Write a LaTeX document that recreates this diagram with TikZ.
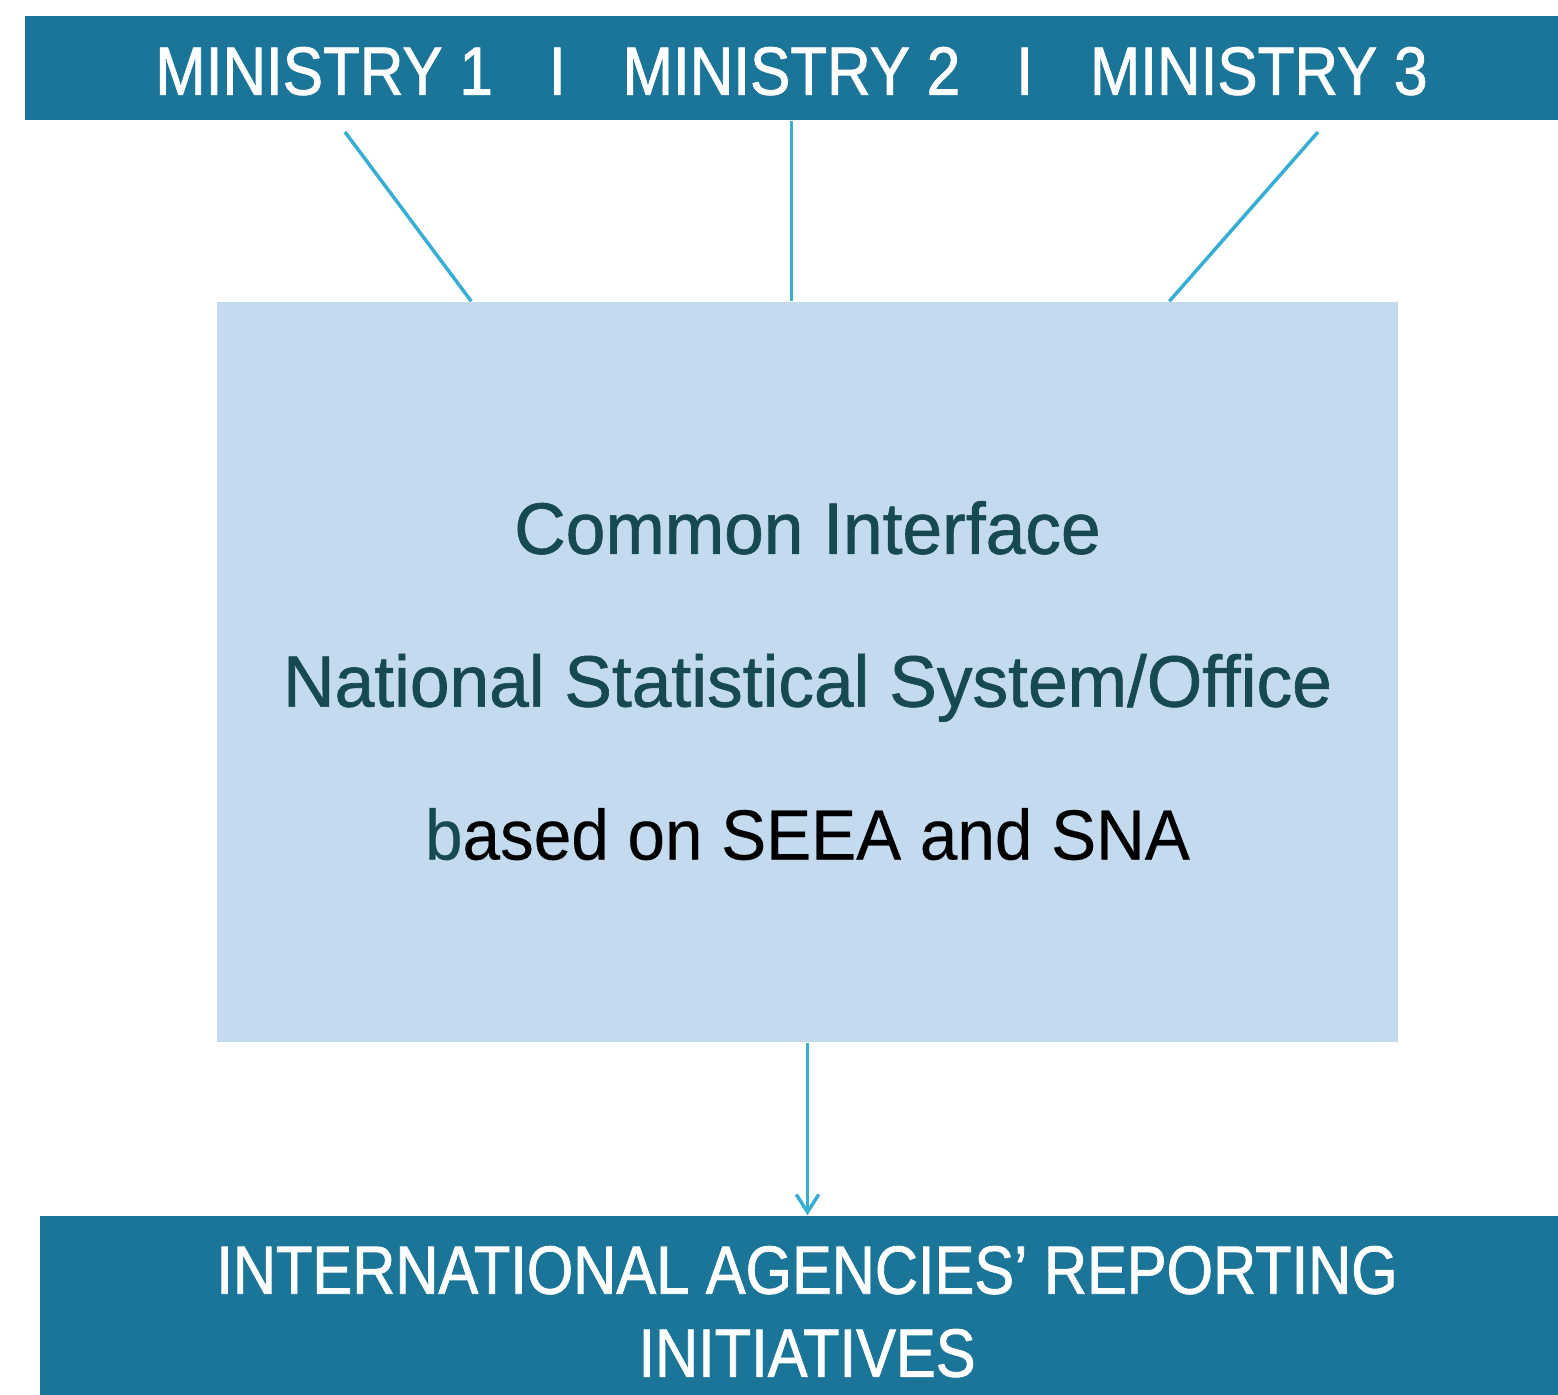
\documentclass[tikz,border=0pt]{standalone}
\usepackage{fontspec}
\setmainfont{Liberation Sans}
\newfontfamily\capsfont[FakeStretch=0.885, FakeBold=1.2]{Liberation Sans}
\newfontfamily\capsnarrow[FakeStretch=0.875, FakeBold=1.2]{Liberation Sans}
\newfontfamily\bodyfont[FakeStretch=0.98, FakeBold=0.9]{Liberation Sans}
\newfontfamily\plainfont[FakeStretch=0.95, FakeBold=0.3]{Liberation Sans}
\usetikzlibrary{arrows.meta,calc,positioning}
\definecolor{figBar}{HTML}{1A7598}
\definecolor{figLink}{HTML}{37AED2}
\definecolor{figBox}{HTML}{C3DAEF}
\definecolor{figDark}{HTML}{174A50}
\tikzset{
  figbar/.style={fill=figBar, draw=none, inner sep=0pt, text=white, align=center,
                 font=\capsfont\fontsize{19.4}{23.6}\selectfont},
  figcore/.style={fill=figBox, draw=none, inner sep=0pt, text=figDark, align=center,
                  font=\bodyfont\fontsize{20.7}{43.5}\selectfont},
  figlink/.style={draw=figLink, line width=1pt},
  figarrow/.style={figlink, -{Straight Barb[length=5pt, width=6.4pt, line width=1pt]}}
}

\begin{document}
\begin{tikzpicture}
\useasboundingbox (0,0) rectangle (15.58,-13.95);

% top bar with the three ministries
\node[figbar, minimum width=15.33cm, minimum height=1.04cm] (ministries) at (7.915,-0.68)
{\rule{0pt}{0.54cm}MINISTRY 1\hspace{0.56cm}I\hspace{0.57cm}MINISTRY 2\hspace{0.56cm}I\hspace{0.57cm}MINISTRY 3};

% common interface box
\node[figcore, minimum width=11.81cm, minimum height=7.40cm] (nss) at (8.075,-6.72)
{\rule{0pt}{0.7cm}Common Interface\\
National Statistical System/Office\\
{\plainfont\fontsize{20.2}{43.5}\selectfont b\textcolor{black}{ased on SEEA and SNA}}};

% reporting bar (runs past the right edge)
\node[figbar, font=\capsnarrow\fontsize{19.4}{23.6}\selectfont,
      minimum width=15.34cm, minimum height=1.79cm] (agencies) at (8.07,-13.055)
{\rule{0pt}{0.6cm}INTERNATIONAL AGENCIES’ REPORTING\\INITIATIVES};

\coordinate (m1) at (3.45,-1.32);
\coordinate (m3) at (13.18,-1.32);
\draw[figlink] (m1) -- ($(nss.north west)+(2.55,0)$);
\draw[figlink] (ministries.south) -- (ministries.south |- nss.north);
\draw[figlink] (m3) -- ($(nss.north west)+(9.53,0)$);
\draw[figarrow] (nss.south) -- (nss.south |- agencies.north);

\end{tikzpicture}
\end{document}
